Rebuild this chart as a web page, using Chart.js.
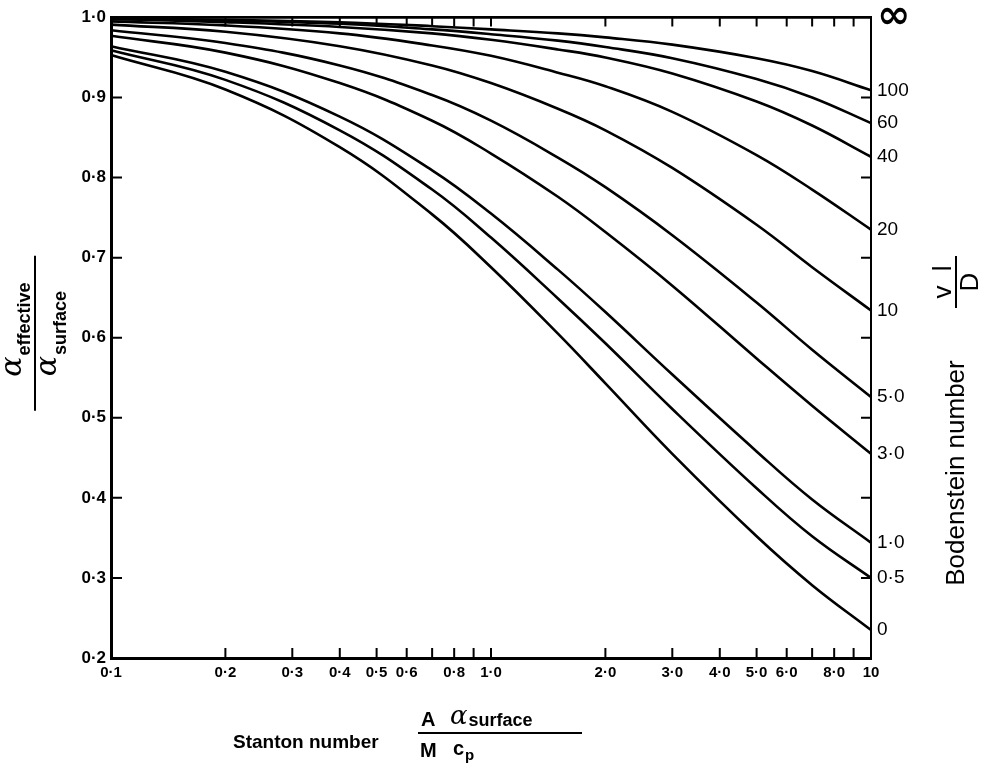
<!DOCTYPE html>
<html lang="en">
<head>
<meta charset="UTF-8" />
<title>Effective heat transfer coefficient against Stanton number</title>
<script src="https://cdn.jsdelivr.net/npm/chart.js"></script>
<style>
  html, body { margin: 0; padding: 0; background: #fff; }
  #wrap { position: relative; width: 992px; height: 769px; }
</style>
</head>
<body>
<div id="wrap"><canvas id="chart"></canvas></div>
<script>
  const stanton = [0.1, 0.2, 0.4, 0.7, 1, 1.5, 2, 3, 5, 7, 10];

  // alpha_effective / alpha_surface, one array per Bodenstein number
  const boInf = [1, 1, 1, 1, 1, 1, 1, 1, 1, 1, 1];
  const bo100 = [0.999, 0.997, 0.994, 0.989, 0.985, 0.980, 0.975, 0.966, 0.949, 0.933, 0.909];
  const bo60  = [0.998, 0.996, 0.992, 0.985, 0.979, 0.971, 0.963, 0.949, 0.923, 0.900, 0.868];
  const bo40  = [0.998, 0.994, 0.988, 0.980, 0.972, 0.960, 0.950, 0.930, 0.895, 0.865, 0.826];
  const bo20  = [0.995, 0.990, 0.980, 0.965, 0.952, 0.931, 0.914, 0.882, 0.828, 0.785, 0.735];
  const bo10  = [0.991, 0.982, 0.964, 0.940, 0.918, 0.886, 0.859, 0.812, 0.741, 0.688, 0.634];
  const bo5   = [0.984, 0.968, 0.940, 0.903, 0.871, 0.825, 0.788, 0.728, 0.644, 0.585, 0.526];
  const bo3   = [0.977, 0.956, 0.918, 0.871, 0.830, 0.776, 0.732, 0.665, 0.574, 0.515, 0.455];
  const bo1   = [0.964, 0.932, 0.876, 0.809, 0.755, 0.685, 0.632, 0.554, 0.458, 0.398, 0.344];
  const bo05  = [0.959, 0.922, 0.859, 0.785, 0.725, 0.649, 0.593, 0.511, 0.412, 0.352, 0.300];
  const bo0   = [0.953, 0.910, 0.838, 0.754, 0.688, 0.605, 0.543, 0.455, 0.352, 0.291, 0.235];

  const curves = [boInf, bo100, bo60, bo40, bo20, bo10, bo5, bo3, bo1, bo05, bo0];
  const boLabels = ['∞', '100', '60', '40', '20', '10', '5·0', '3·0', '1·0', '0·5', '0'];

  // axis ticks
  const xTickValues = [0.1, 0.2, 0.3, 0.4, 0.5, 0.6, 0.8, 1, 2, 3, 4, 5, 6, 8, 10];
  const xTickLabels = ['0·1', '0·2', '0·3', '0·4', '0·5', '0·6', '0·8', '1·0', '2·0', '3·0', '4·0', '5·0', '6·0', '8·0', '10'];
  const xMarks = [0.2, 0.3, 0.4, 0.5, 0.6, 0.7, 0.8, 0.9, 1, 2, 3, 4, 5, 6, 7, 8, 9];
  const yTickValues = [0.2, 0.3, 0.4, 0.5, 0.6, 0.7, 0.8, 0.9, 1.0];
  const yTickLabels = ['0·2', '0·3', '0·4', '0·5', '0·6', '0·7', '0·8', '0·9', '1·0'];
  const yMarks = [0.3, 0.4, 0.5, 0.6, 0.7, 0.8, 0.9];

  const endValues = curves.map(c => c[c.length - 1]);
  const sans = '"Liberation Sans", Arial, sans-serif';

  // short tick marks pointing into the plot on all four sides
  const inwardTicks = {
    id: 'inwardTicks',
    afterDatasetsDraw(chart) {
      const { ctx, chartArea: a, scales } = chart;
      ctx.save();
      ctx.strokeStyle = '#000';
      ctx.lineWidth = 2;
      ctx.beginPath();
      xMarks.forEach(v => {
        const px = scales.x.getPixelForValue(v);
        ctx.moveTo(px, a.bottom); ctx.lineTo(px, a.bottom - 10);
        ctx.moveTo(px, a.top); ctx.lineTo(px, a.top + 9);
      });
      yMarks.forEach(v => {
        const py = scales.y.getPixelForValue(v);
        ctx.moveTo(a.left, py); ctx.lineTo(a.left + 11, py);
        ctx.moveTo(a.right, py); ctx.lineTo(a.right - 10, py);
      });
      ctx.stroke();
      ctx.restore();
    }
  };

  // draws a letter with a subscript word, starting at x
  function subText(ctx, x, y, main, mainFont, sub, subFont, drop) {
    ctx.font = mainFont;
    ctx.fillText(main, x, y);
    x += ctx.measureText(main).width + 1;
    ctx.font = subFont;
    ctx.fillText(sub, x, y + drop);
    return x + ctx.measureText(sub).width;
  }

  function subWidth(ctx, main, mainFont, sub, subFont) {
    ctx.font = mainFont;
    const w = ctx.measureText(main).width + 1;
    ctx.font = subFont;
    return w + ctx.measureText(sub).width;
  }

  // axis titles with the fractions
  const axisTitles = {
    id: 'axisTitles',
    afterDraw(chart) {
      const { ctx, chartArea: a } = chart;
      const alpha = 'italic 30px "DejaVu Serif", serif';
      const subB = 'bold 18px ' + sans;
      ctx.save();
      ctx.fillStyle = '#000';
      ctx.strokeStyle = '#000';
      ctx.textBaseline = 'alphabetic';
      ctx.textAlign = 'left';

      // left: alpha_effective / alpha_surface
      ctx.save();
      ctx.translate(a.left - 76, (a.top + a.bottom) / 2 - 4);
      ctx.rotate(-Math.PI / 2);
      ctx.lineWidth = 2;
      ctx.beginPath(); ctx.moveTo(-77, 0); ctx.lineTo(78, 0); ctx.stroke();
      let w = subWidth(ctx, 'α', alpha, 'effective', subB);
      subText(ctx, -w / 2 + 4, -14, 'α', alpha, 'effective', subB, 9);
      w = subWidth(ctx, 'α', alpha, 'surface', subB);
      subText(ctx, -w / 2, 21, 'α', alpha, 'surface', subB, 10);
      ctx.restore();

      // bottom: Stanton number  A alpha_surface / M c_p
      ctx.font = 'bold 19px ' + sans;
      ctx.fillText('Stanton number', 233, 748);
      const fx = 418;
      ctx.lineWidth = 2;
      ctx.beginPath(); ctx.moveTo(fx, 733); ctx.lineTo(fx + 164, 733); ctx.stroke();
      ctx.font = 'bold 20px ' + sans;
      ctx.fillText('A', fx + 3, 726);
      subText(ctx, fx + 32, 724, 'α', 'italic 26px "DejaVu Serif", serif', 'surface', 'bold 18px ' + sans, 2);
      ctx.font = 'bold 20px ' + sans;
      ctx.fillText('M', fx + 2, 757);
      subText(ctx, fx + 35, 755, 'c', 'bold 20px ' + sans, 'p', 'bold 15px ' + sans, 5);

      // right: Bodenstein number  v l / D
      ctx.save();
      ctx.translate(957, 0);
      ctx.rotate(-Math.PI / 2);
      ctx.textAlign = 'center';
      ctx.textBaseline = 'middle';
      ctx.font = '26px ' + sans;
      ctx.fillText('Bodenstein number', -473, 0);
      ctx.lineWidth = 2;
      ctx.beginPath(); ctx.moveTo(-308, -1); ctx.lineTo(-256, -1); ctx.stroke();
      ctx.textBaseline = 'alphabetic';
      ctx.fillText('v  l', -282, -6);
      ctx.fillText('D', -282, 21);
      ctx.restore();

      ctx.restore();
    }
  };

  const datasets = curves.map((c, i) => ({
    label: boLabels[i],
    data: stanton.map((s, j) => ({ x: s, y: c[j] })),
    borderColor: '#000',
    borderWidth: 2.6,
    pointRadius: 0,
    tension: 0.4,
    fill: false,
    clip: 4,
    yAxisID: 'y'
  }));

  new Chart(document.getElementById('chart'), {
    type: 'line',
    data: { datasets },
    options: {
      responsive: true,
      maintainAspectRatio: false,
      animation: false,
      events: [],
      layout: { padding: { top: 15, left: 0, right: 0, bottom: 0 } },
      plugins: { legend: { display: false }, tooltip: { enabled: false } },
      scales: {
        x: {
          type: 'logarithmic',
          min: 0.1,
          max: 10,
          grid: { display: false, drawTicks: false },
          border: { display: true, color: '#000', width: 3 },
          afterBuildTicks: scale => { scale.ticks = xTickValues.map(v => ({ value: v })); },
          afterFit: scale => { scale.height = 111; },
          ticks: {
            autoSkip: false,
            maxRotation: 0,
            padding: 6,
            color: '#000',
            font: { family: sans, size: 15, weight: 'bold' },
            callback: (v, i) => xTickLabels[i]
          }
        },
        y: {
          type: 'linear',
          position: 'left',
          min: 0.2,
          max: 1.0,
          grid: { display: false, drawTicks: false },
          border: { display: true, color: '#000', width: 3 },
          afterBuildTicks: scale => { scale.ticks = yTickValues.map(v => ({ value: v })); },
          afterFit: scale => { scale.width = 111; },
          ticks: {
            autoSkip: false,
            padding: 5,
            color: '#000',
            font: { family: sans, size: 17, weight: 'bold' },
            callback: (v, i) => yTickLabels[i]
          }
        },
        yR: {
          type: 'linear',
          position: 'right',
          min: 0.2,
          max: 1.0,
          grid: { display: false, drawTicks: false },
          border: { display: true, color: '#000', width: 2 },
          afterBuildTicks: scale => { scale.ticks = endValues.map(v => ({ value: v })); },
          afterFit: scale => { scale.width = 121; },
          ticks: {
            autoSkip: false,
            padding: 6,
            color: '#000',
            font: ctx => (ctx.tick && ctx.tick.value === 1)
              ? { family: '"DejaVu Sans", sans-serif', size: 40, weight: 'bold' }
              : { family: sans, size: 19 },
            callback: v => boLabels[endValues.indexOf(v)]
          }
        }
      }
    },
    plugins: [inwardTicks, axisTitles]
  });
</script>
</body>
</html>
